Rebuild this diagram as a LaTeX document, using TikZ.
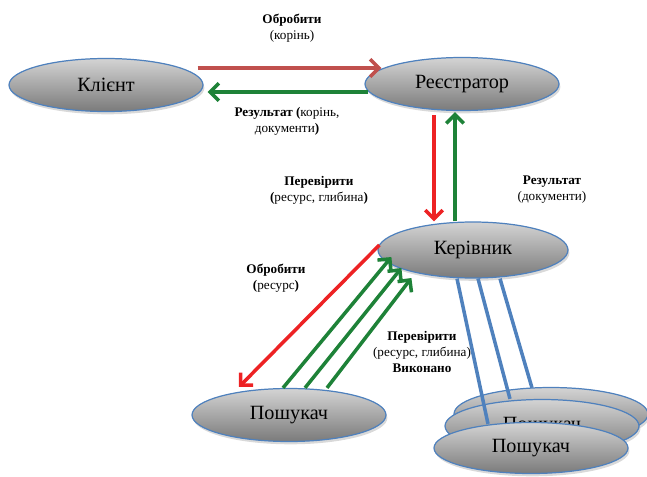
\documentclass[tikz,border=0pt]{standalone}
\usepackage{fontspec}
\setmainfont{Liberation Serif}
\usepackage{tikz}
\usetikzlibrary{arrows.meta,shapes.geometric,shadows}
\definecolor{edgeblue}{RGB}{79,129,189}
\definecolor{brickred}{RGB}{192,80,77}
\definecolor{brightred}{RGB}{237,34,36}
\definecolor{darkgreen}{RGB}{30,130,56}
\definecolor{linkblue}{RGB}{79,129,189}
\tikzset{
  agent/.style={ellipse, draw=edgeblue, line width=0.7pt, top color=black!17, bottom color=black!52,
    minimum width=3.88cm, minimum height=1.06cm, inner sep=1pt, font=\fontsize{11.5}{13}\selectfont,
    drop shadow={shadow xshift=0.8pt, shadow yshift=-1.6pt, opacity=0.3}},
  msg/.style={line width=2pt, -{Straight Barb[length=5pt,width=10pt]}},
  wire/.style={line width=2pt, linkblue},
  lbl/.style={align=center, font=\fontsize{7.5}{9}\selectfont},
}

\begin{document}
\begin{tikzpicture}[x=0.02cm, y=-0.02cm]
        \useasboundingbox (0,0) rectangle (647,477);
        \node[agent] (client) at (106,85) {Клієнт};
        \node[agent] (reg) at (462,84) {Реєстратор};
        \node[agent, minimum width=3.8cm, minimum height=1.12cm] (boss) at (473,250) {Керівник};
        \node[agent] (seeker) at (289,415) {Пошукач};
        \node[agent] (seekC) at (551,414) {Пошукач};
        \node[agent] (seekB) at (542,426) {Пошукач};
        \node[agent, minimum height=1.02cm] (seekA) at (531,448) {Пошукач};
        \draw[msg, brickred] ([shift={(-6,-17)}]client.east) -- ([shift={(17,-16)}]reg.west);
        \draw[msg, darkgreen] ([shift={(4,8)}]reg.west) -- ([shift={(4,7)}]client.east);
        \draw[msg, brightred] ([shift={(-28,4)}]reg.south) -- ([shift={(-39,0)}]boss.north);
        \draw[msg, darkgreen] ([shift={(-18,0)}]boss.north) -- ([shift={(-7,1)}]reg.south);
        \draw[msg, brightred] ([shift={(2,-5)}]boss.west) -- ([shift={(-50,-1)}]seeker.north);
        \draw[msg, darkgreen] ([shift={(-6,0)}]seeker.north) -- ([shift={(14,7)}]boss.west);
        \draw[msg, darkgreen] ([shift={(16,0)}]seeker.north) -- ([shift={(24,18)}]boss.west);
        \draw[msg, darkgreen] ([shift={(38,0)}]seeker.north) -- ([shift={(34,28)}]boss.west);
        \draw[wire] ([shift={(-16,0)}]boss.south) -- ([shift={(-43,2)}]seekA.north);
        \draw[wire] ([shift={(5,0)}]boss.south) -- ([shift={(-32,0)}]seekB.north);
        \draw[wire] ([shift={(27,0)}]boss.south) -- ([shift={(-19,1)}]seekC.north);
        \node[lbl] (lblA) at (292,28) {\textbf{Обробити}\\(корінь)};
        \node[lbl] (lblB) at (287,121) {\textbf{Результат (}корінь,\\документи\textbf{)}};
        \node[lbl] (lblC) at (319,190) {\textbf{Перевірити}\\\textbf{(}ресурс, глибина\textbf{)}};
        \node[lbl] (lblD) at (552,190) {\textbf{Результат}\\(документи)};
        \node[lbl] (lblE) at (276,278) {\textbf{Обробити}\\\textbf{(}ресурс\textbf{)}};
        \node[lbl] (lblF) at (422,352) {\textbf{Перевірити}\\(ресурс, глибина)\\\textbf{Виконано}};
\end{tikzpicture}
\end{document}
